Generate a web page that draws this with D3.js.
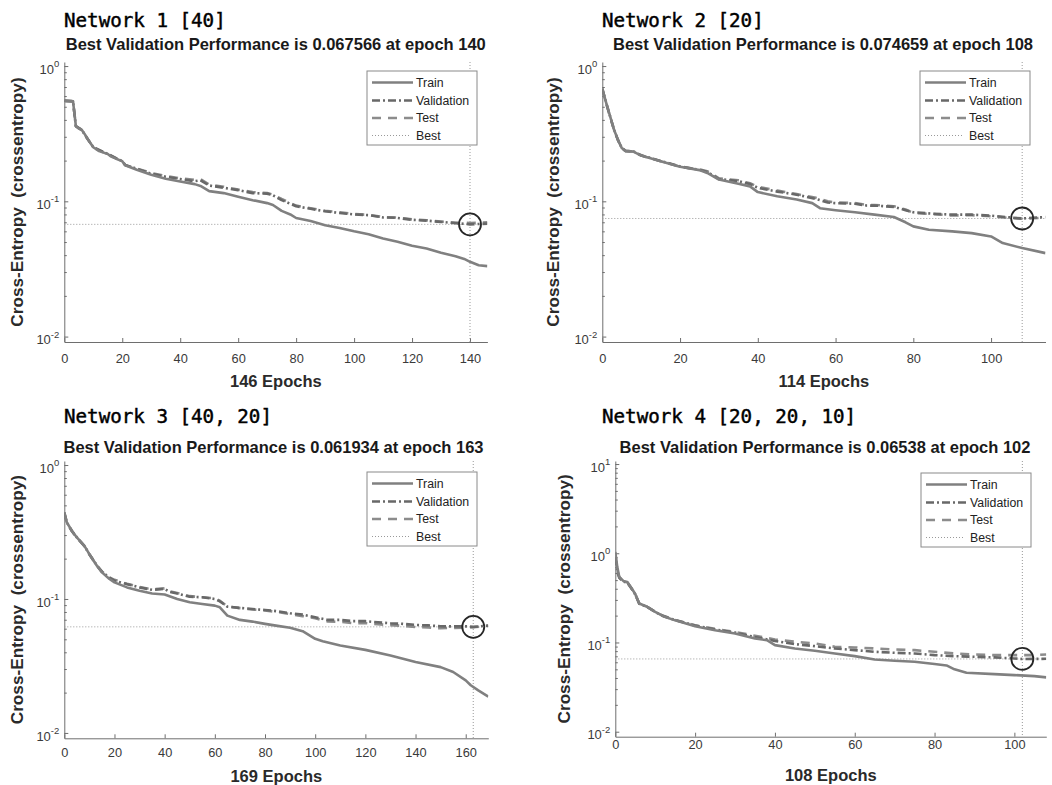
<!DOCTYPE html>
<html>
<head>
<meta charset="utf-8">
<script src="https://cdn.jsdelivr.net/npm/d3@7"></script>
<style>
  body { margin: 0; background: #fff; }
  svg text { font-family: Arial, "Liberation Sans", sans-serif; }
</style>
</head>
<body>
<svg id="chart" width="1052" height="785"></svg>
<script>
// ---- data: [epoch, cross-entropy] ----
const net1Train = [[0,0.555],[3,0.55],[4,0.36],[5,0.345],[6,0.338],[7,0.315],[8,0.29],[10,0.251],[12,0.235],[15,0.224],[16,0.215],[18,0.206],[20,0.198],[21,0.185],[25,0.171],[30,0.157],[35,0.147],[40,0.140],[45,0.134],[47,0.130],[50,0.119],[55,0.115],[60,0.108],[65,0.102],[70,0.097],[72,0.094],[75,0.085],[78,0.080],[80,0.0753],[85,0.0716],[90,0.0666],[95,0.0636],[100,0.060],[105,0.0571],[110,0.0531],[115,0.0502],[120,0.0469],[125,0.0448],[130,0.0416],[135,0.0393],[138,0.0375],[140,0.0357],[143,0.0337],[146,0.0332]];
const net1Val = [[0,0.555],[3,0.55],[4,0.36],[6,0.338],[8,0.29],[10,0.251],[15,0.224],[20,0.198],[21,0.186],[25,0.174],[30,0.160],[35,0.152],[40,0.146],[45,0.141],[47,0.143],[50,0.131],[55,0.126],[60,0.121],[65,0.115],[70,0.114],[72,0.111],[75,0.102],[80,0.092],[85,0.088],[90,0.0844],[95,0.082],[100,0.080],[105,0.079],[110,0.076],[115,0.0754],[120,0.073],[125,0.072],[130,0.0704],[135,0.069],[140,0.067566],[146,0.0684]];
const net1Test = [[0,0.55],[3,0.548],[4,0.358],[6,0.336],[8,0.29],[10,0.25],[15,0.223],[20,0.197],[21,0.185],[25,0.175],[30,0.162],[35,0.154],[40,0.148],[45,0.144],[47,0.146],[50,0.133],[55,0.128],[60,0.122],[65,0.117],[70,0.115],[72,0.112],[75,0.104],[80,0.093],[85,0.089],[90,0.085],[95,0.083],[100,0.0805],[105,0.0795],[110,0.0765],[115,0.0758],[120,0.0735],[125,0.0725],[130,0.0708],[135,0.0695],[140,0.0692],[146,0.0700]];

const net2Train = [[0,0.68],[1,0.535],[2,0.426],[3,0.34],[4,0.286],[5,0.248],[6,0.236],[8,0.233],[10,0.218],[15,0.198],[20,0.18],[25,0.17],[27,0.162],[30,0.145],[35,0.135],[38,0.129],[40,0.117],[45,0.109],[50,0.103],[54,0.097],[56,0.089],[60,0.086],[65,0.083],[70,0.0797],[75,0.0765],[78,0.070],[80,0.0653],[84,0.0617],[90,0.060],[95,0.0582],[100,0.055],[103,0.0491],[108,0.0451],[114,0.0414]];
const net2Val = [[0,0.68],[1,0.535],[2,0.426],[3,0.34],[4,0.286],[5,0.248],[6,0.236],[8,0.234],[10,0.219],[15,0.199],[20,0.181],[25,0.171],[27,0.165],[30,0.146],[35,0.141],[38,0.134],[40,0.126],[45,0.118],[50,0.112],[55,0.104],[58,0.098],[60,0.097],[65,0.096],[68,0.093],[70,0.093],[75,0.091],[78,0.086],[80,0.083],[85,0.081],[90,0.0797],[95,0.0797],[100,0.0783],[105,0.076],[108,0.074659],[114,0.0765]];
const net2Test = [[0,0.67],[1,0.53],[2,0.42],[3,0.338],[4,0.284],[5,0.247],[6,0.235],[8,0.233],[10,0.218],[15,0.198],[20,0.18],[25,0.172],[27,0.167],[30,0.148],[35,0.143],[38,0.136],[40,0.128],[45,0.12],[50,0.113],[55,0.106],[58,0.1],[60,0.098],[65,0.097],[68,0.094],[70,0.094],[75,0.092],[78,0.087],[80,0.082],[85,0.0805],[90,0.0785],[95,0.079],[100,0.0775],[105,0.0752],[108,0.0745],[114,0.0755]];

const net3Train = [[0,0.442],[1,0.373],[3,0.323],[5,0.288],[8,0.249],[10,0.216],[13,0.177],[15,0.158],[18,0.141],[20,0.133],[25,0.122],[30,0.115],[35,0.110],[40,0.108],[45,0.100],[50,0.0944],[55,0.0918],[60,0.0892],[62,0.0867],[65,0.0751],[70,0.0698],[75,0.0678],[80,0.0652],[85,0.063],[90,0.0609],[95,0.0575],[100,0.0504],[103,0.0484],[110,0.045],[120,0.0417],[130,0.0379],[135,0.0358],[140,0.0338],[150,0.031],[155,0.0285],[160,0.0247],[162,0.0227],[165,0.0208],[169,0.0187]];
const net3Val = [[0,0.442],[1,0.373],[3,0.323],[5,0.288],[8,0.249],[10,0.216],[13,0.178],[15,0.16],[18,0.144],[20,0.137],[25,0.129],[30,0.122],[35,0.117],[40,0.119],[42,0.113],[45,0.110],[50,0.104],[55,0.103],[60,0.10],[62,0.096],[65,0.0877],[70,0.0857],[75,0.0842],[80,0.0828],[85,0.081],[90,0.0782],[95,0.0764],[100,0.073],[105,0.0698],[110,0.0698],[115,0.0683],[120,0.0683],[125,0.067],[130,0.0659],[135,0.0652],[140,0.064],[145,0.0635],[150,0.0625],[155,0.0624],[160,0.0625],[163,0.061934],[169,0.0633]];
const net3Test = [[0,0.44],[1,0.37],[3,0.32],[5,0.286],[8,0.248],[10,0.215],[13,0.177],[15,0.16],[18,0.145],[20,0.139],[25,0.13],[30,0.123],[35,0.118],[40,0.12],[42,0.114],[45,0.111],[50,0.105],[55,0.103],[60,0.101],[62,0.097],[65,0.088],[70,0.0855],[75,0.0835],[80,0.082],[85,0.08],[90,0.077],[95,0.0745],[100,0.0718],[105,0.068],[110,0.0675],[115,0.066],[120,0.066],[125,0.0648],[130,0.0638],[135,0.063],[140,0.0618],[145,0.0612],[150,0.0605],[155,0.0608],[160,0.0612],[163,0.0615],[169,0.063]];

const net4Train = [[0,1.035],[0.5,0.7],[1,0.543],[2,0.49],[3,0.476],[4,0.41],[5,0.35],[6,0.273],[8,0.251],[10,0.22],[12,0.197],[15,0.177],[20,0.152],[25,0.137],[30,0.126],[35,0.111],[38,0.106],[40,0.0934],[45,0.0857],[50,0.0807],[55,0.0753],[60,0.0703],[65,0.0645],[70,0.0623],[75,0.0608],[80,0.0573],[83,0.0553],[85,0.05],[88,0.0458],[95,0.0442],[100,0.0431],[105,0.042],[108,0.0406]];
const net4Val = [[0,0.9],[0.5,0.62],[1,0.53],[2,0.48],[3,0.47],[4,0.405],[5,0.345],[6,0.272],[8,0.25],[10,0.22],[12,0.198],[15,0.178],[20,0.155],[25,0.14],[30,0.129],[35,0.115],[40,0.104],[45,0.0958],[50,0.091],[55,0.0857],[60,0.082],[65,0.0786],[70,0.0766],[75,0.0753],[80,0.0721],[85,0.0703],[90,0.0691],[95,0.068],[100,0.0662],[102,0.06538],[108,0.0656]];
const net4Test = [[0,0.95],[0.5,0.64],[1,0.54],[2,0.485],[3,0.472],[4,0.408],[5,0.347],[6,0.273],[8,0.251],[10,0.221],[12,0.199],[15,0.179],[20,0.156],[25,0.142],[30,0.131],[35,0.119],[40,0.108],[45,0.102],[50,0.0975],[55,0.0895],[60,0.088],[65,0.0857],[70,0.0835],[75,0.082],[80,0.0786],[85,0.0753],[90,0.0734],[95,0.0721],[100,0.0721],[105,0.0721],[108,0.0734]];

const netNames = ['Network 1 [40]', 'Network 2 [20]', 'Network 3 [40, 20]', 'Network 4 [20, 20, 10]'];
const epochCounts = [146, 114, 169, 108];
const bestEpochs = [140, 108, 163, 102];
const bestPerfs = ['0.067566', '0.074659', '0.061934', '0.06538'];
const yExpLimits = [[-2.04, 0.03], [-2.04, 0.03], [-2.04, 0.03], [-2.056, 1.034]];
const yDecades = [[-2, -1, 0], [-2, -1, 0], [-2, -1, 0], [-2, -1, 0, 1]];
const xTickVals = [
  [0, 20, 40, 60, 80, 100, 120, 140],
  [0, 20, 40, 60, 80, 100],
  [0, 20, 40, 60, 80, 100, 120, 140, 160],
  [0, 20, 40, 60, 80, 100]
];
const seriesNames = ['Train', 'Validation', 'Test', 'Best'];

// ---- layout (pixel boxes of each axes) ----
const layouts = [
  { left: 64.3, right: 487.4, top: 62, bottom: 342, titleX: 64, titleY: 26.7, subX: 275.8, subY: 50, xlabY: 387.3, ylabX: 23, xPad: 12, legX: 367, legY: 71 },
  { left: 602.3, right: 1045.5, top: 62, bottom: 342, titleX: 602, titleY: 26.7, subX: 823, subY: 50, xlabY: 387.3, ylabX: 559, xPad: 12, legX: 920, legY: 71 },
  { left: 64.3, right: 488.3, top: 461, bottom: 738.3, titleX: 64, titleY: 423.3, subX: 273.5, subY: 453.3, xlabY: 781.7, ylabX: 23, xPad: 10, legX: 367, legY: 472 },
  { left: 615.3, right: 1046.3, top: 461, bottom: 736.7, titleX: 602, titleY: 423.3, subX: 825, subY: 453.3, xlabY: 780.7, ylabX: 570, xPad: 3, legX: 921, legY: 473 }
];

const styles = {
  Train:      { stroke: '#808080', width: 2.6, dash: null },
  Validation: { stroke: '#686868', width: 2.6, dash: '8,3,2,3' },
  Test:       { stroke: '#8c8c8c', width: 2.6, dash: '9,7' },
  Best:       { stroke: '#999999', width: 1,   dash: '1,2' }
};

const panels = [
  { train: net1Train, val: net1Val, test: net1Test },
  { train: net2Train, val: net2Val, test: net2Test },
  { train: net3Train, val: net3Val, test: net3Test },
  { train: net4Train, val: net4Val, test: net4Test }
];

const svg = d3.select('#chart');
const axisColor = '#6e6e6e';
const tickText = '#3a3a3a';

panels.forEach((p, i) => {
  const L = layouts[i];
  const g = svg.append('g');

  const x = d3.scaleLinear().domain([0, epochCounts[i]]).range([L.left, L.right]);
  const y = d3.scaleLog()
    .domain([Math.pow(10, yExpLimits[i][0]), Math.pow(10, yExpLimits[i][1])])
    .range([L.bottom, L.top]);

  // titles
  g.append('text')
    .attr('x', L.titleX).attr('y', L.titleY)
    .style('font-family', '"DejaVu Sans Mono", "Liberation Mono", monospace')
    .style('font-size', '19.2px')
    .attr('fill', '#000')
    .attr('stroke', '#000').attr('stroke-width', 0.45)
    .attr('xml:space', 'preserve')
    .text(netNames[i]);

  g.append('text')
    .attr('x', L.subX).attr('y', L.subY)
    .attr('text-anchor', 'middle')
    .style('font-size', '16.5px').style('font-weight', 'bold')
    .attr('fill', '#1a1a1a')
    .text(`Best Validation Performance is ${bestPerfs[i]} at epoch ${bestEpochs[i]}`);

  // clip
  const clipId = 'clip' + i;
  svg.append('clipPath').attr('id', clipId).append('rect')
    .attr('x', L.left).attr('y', L.top)
    .attr('width', L.right - L.left).attr('height', L.bottom - L.top);

  // minor ticks on the log axis
  const minorVals = [];
  yDecades[i].forEach(e => {
    for (let m = 2; m <= 9; m++) {
      const v = m * Math.pow(10, e);
      if (v < y.domain()[1]) minorVals.push(v);
    }
  });
  const minorG = g.append('g').attr('transform', `translate(${L.left},0)`)
    .call(d3.axisLeft(y).tickValues(minorVals).tickSize(-2.5).tickFormat(''));
  minorG.select('.domain').remove();
  minorG.selectAll('line').attr('stroke', axisColor);

  // y axis
  const yAxisG = g.append('g').attr('transform', `translate(${L.left},0)`)
    .call(d3.axisLeft(y)
      .tickValues(yDecades[i].map(e => Math.pow(10, e)))
      .tickSize(-4).tickSizeOuter(0).tickPadding(5)
      .tickFormat(''));
  yAxisG.selectAll('.domain, line').attr('stroke', axisColor);
  yAxisG.selectAll('.tick text').each(function(d) {
    const e = Math.round(Math.log10(d));
    const t = d3.select(this)
      .attr('fill', tickText).style('font-size', '13px')
      .attr('dy', '0.55em');
    t.append('tspan').text('10');
    t.append('tspan').attr('dy', '-0.7em').style('font-size', '9.5px')
      .text(e < 0 ? '-' + Math.abs(e) : String(e));
  });

  // x axis
  const xAxisG = g.append('g').attr('transform', `translate(0,${L.bottom})`)
    .call(d3.axisBottom(x).tickValues(xTickVals[i]).tickSize(-4).tickSizeOuter(0).tickPadding(L.xPad));
  xAxisG.selectAll('.domain, line').attr('stroke', axisColor);
  xAxisG.selectAll('.tick text').attr('fill', tickText).style('font-size', '12.8px')
    .style('font-family', 'Arial, "Liberation Sans", sans-serif');

  // axis labels
  g.append('text')
    .attr('x', (L.left + L.right) / 2).attr('y', L.xlabY)
    .attr('text-anchor', 'middle')
    .style('font-size', '16.5px').style('font-weight', 'bold').attr('fill', '#2a2a2a')
    .text(`${epochCounts[i]} Epochs`);

  g.append('text')
    .attr('transform', `translate(${L.ylabX},${(L.top + L.bottom) / 2}) rotate(-90)`)
    .attr('text-anchor', 'middle')
    .attr('xml:space', 'preserve')
    .style('white-space', 'pre')
    .style('font-size', '17.2px').style('font-weight', 'bold').attr('fill', '#2a2a2a')
    .text('Cross-Entropy  (crossentropy)');

  // plot lines
  const plot = g.append('g').attr('clip-path', `url(#${clipId})`);
  const bestVal = +bestPerfs[i];

  // best guides
  plot.append('line')
    .attr('x1', x(0)).attr('x2', x(epochCounts[i]))
    .attr('y1', y(bestVal)).attr('y2', y(bestVal))
    .attr('stroke', styles.Best.stroke).attr('stroke-width', 1).attr('stroke-dasharray', styles.Best.dash);
  plot.append('line')
    .attr('x1', x(bestEpochs[i])).attr('x2', x(bestEpochs[i]))
    .attr('y1', L.top).attr('y2', L.bottom)
    .attr('stroke', styles.Best.stroke).attr('stroke-width', 1).attr('stroke-dasharray', styles.Best.dash);

  const line = d3.line().x(d => x(d[0])).y(d => y(d[1]));
  [['Test', p.test], ['Validation', p.val], ['Train', p.train]].forEach(([name, data]) => {
    const s = styles[name];
    plot.append('path').datum(data)
      .attr('d', line)
      .attr('fill', 'none')
      .attr('stroke', s.stroke)
      .attr('stroke-width', s.width)
      .attr('stroke-linejoin', 'round')
      .attr('stroke-dasharray', s.dash);
  });

  g.append('circle')
    .attr('cx', x(bestEpochs[i])).attr('cy', y(bestVal)).attr('r', 11)
    .attr('fill', 'none').attr('stroke', '#262626').attr('stroke-width', 1.8);

  // legend
  const leg = g.append('g').attr('transform', `translate(${L.legX},${L.legY})`);
  leg.append('rect').attr('width', 110).attr('height', 74)
    .attr('fill', '#fff').attr('stroke', '#8a8a8a').attr('stroke-width', 1);
  const rowY = [11.5, 29.5, 47, 64.5];
  seriesNames.forEach((name, k) => {
    const s = styles[name];
    leg.append('line')
      .attr('x1', 5).attr('x2', name === 'Best' ? 43 : 46).attr('y1', rowY[k]).attr('y2', rowY[k])
      .attr('stroke', s.stroke).attr('stroke-width', s.width)
      .attr('stroke-dasharray', s.dash);
    leg.append('text')
      .attr('x', 49).attr('y', rowY[k] + 4.3)
      .style('font-size', '12.3px').attr('fill', '#222')
      .text(name);
  });
});
</script>
</body>
</html>
